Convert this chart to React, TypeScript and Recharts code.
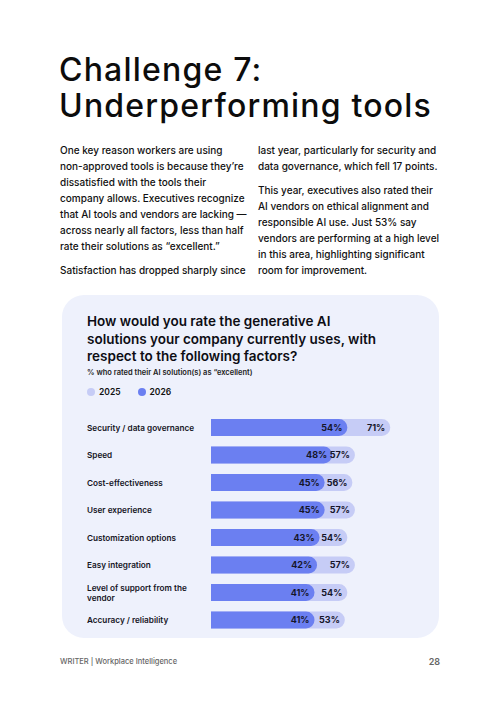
import React from "react";
import { BarChart, Bar, XAxis, YAxis, LabelList } from "recharts";

const categories = [
  "Security / data governance",
  "Speed",
  "Cost-effectiveness",
  "User experience",
  "Customization options",
  "Easy integration",
  "Level of support from the vendor",
  "Accuracy / reliability",
];
const values2025 = [71, 57, 56, 57, 54, 57, 54, 53];
const values2026 = [54, 48, 45, 45, 43, 42, 41, 41];
const seriesNames = ["2025", "2026"];

const COLOR_2025 = "#c6ccf6";
const COLOR_2026 = "#6b7ff1";
const FONT = "Inter, 'Noto Sans', sans-serif";

const data = categories.map((name, i) => ({
  name,
  v2025: values2025[i],
  v2026: values2026[i],
}));

const YAXIS_W = 149;
const LABEL_X = 25;

function wrap(text: string, max: number) {
  const words = text.split(" ");
  const lines: string[] = [];
  let cur = "";
  for (const w of words) {
    const next = cur ? cur + " " + w : w;
    if (next.length > max && cur) {
      lines.push(cur);
      cur = w;
    } else cur = next;
  }
  if (cur) lines.push(cur);
  return lines;
}

const CatTick = (props: any) => {
  const { y, payload } = props;
  const lines = wrap(String(payload.value), 26);
  const lh = 10;
  const start = y - ((lines.length - 1) * lh) / 2;
  return (
    <text
      x={LABEL_X}
      y={start}
      textAnchor="start"
      dominantBaseline="central"
      fontFamily={FONT}
      fontSize={8.2}
      fontWeight={600}
      fill="#15151f"
    >
      {lines.map((l, i) => (
        <tspan key={i} x={LABEL_X} y={start + i * lh}>
          {l}
        </tspan>
      ))}
    </text>
  );
};

const pct = (v: any) => `${v}%`;

export default function App() {
  return (
    <div
      style={{
        position: "absolute",
        left: 0,
        top: 0,
        width: 500,
        height: 707,
        background: "#ffffff",
        fontFamily: FONT,
        color: "#111",
        overflow: "hidden",
      }}
    >
      <div
        style={{
          position: "absolute",
          left: 59,
          top: 52,
          fontSize: 32,
          fontWeight: 500,
          lineHeight: "36px",
          letterSpacing: "1.2px",
          whiteSpace: "nowrap",
          color: "#0c0c0c",
        }}
      >
        <div>Challenge 7:</div>
        <div>Underperforming tools</div>
      </div>

      <div
        style={{
          position: "absolute",
          left: 60,
          top: 142,
          fontSize: 10,
          fontWeight: 500,
          lineHeight: "16px",
          whiteSpace: "nowrap",
        }}
      >
        One key reason workers are using
        <br />
        non-approved tools is because they’re
        <br />
        dissatisfied with the tools their
        <br />
        company allows. Executives recognize
        <br />
        that AI tools and vendors are lacking —
        <br />
        across nearly all factors, less than half
        <br />
        rate their solutions as “excellent.”
        <div style={{ marginTop: 7.5 }}>Satisfaction has dropped sharply since</div>
      </div>

      <div
        style={{
          position: "absolute",
          left: 258,
          top: 142,
          fontSize: 10,
          fontWeight: 500,
          lineHeight: "16px",
          whiteSpace: "nowrap",
        }}
      >
        last year, particularly for security and
        <br />
        data governance, which fell 17 points.
        <div style={{ marginTop: 7.5 }}>
          This year, executives also rated their
          <br />
          AI vendors on ethical alignment and
          <br />
          responsible AI use. Just 53% say
          <br />
          vendors are performing at a high level
          <br />
          in this area, highlighting significant
          <br />
          room for improvement.
        </div>
      </div>

      <div
        style={{
          position: "absolute",
          left: 62,
          top: 295,
          width: 377,
          height: 343,
          borderRadius: 22,
          background: "#eef1fc",
        }}
      >
        <div
          style={{
            position: "absolute",
            left: 25,
            top: 18,
            fontSize: 13.5,
            fontWeight: 600,
            lineHeight: "17.5px",
            whiteSpace: "nowrap",
            color: "#0d0d14",
          }}
        >
          How would you rate the generative AI
          <br />
          solutions your company currently uses, with
          <br />
          respect to the following factors?
        </div>
        <div
          style={{
            position: "absolute",
            left: 25,
            top: 73,
            fontSize: 7.5,
            fontWeight: 600,
            whiteSpace: "nowrap",
            color: "#222",
          }}
        >
          % who rated their AI solution(s) as “excellent)
        </div>
        <div
          style={{
            position: "absolute",
            left: 25,
            top: 92,
            display: "flex",
            alignItems: "center",
            fontSize: 8.5,
            fontWeight: 600,
            color: "#111",
          }}
        >
          {seriesNames.map((s, i) => (
            <div key={s} style={{ display: "flex", alignItems: "center", marginRight: 17 }}>
              <span
                style={{
                  width: 8,
                  height: 8,
                  borderRadius: 4,
                  background: i === 0 ? COLOR_2025 : COLOR_2026,
                  marginRight: 4,
                  display: "inline-block",
                }}
              />
              {s}
            </div>
          ))}
        </div>

        <div style={{ position: "absolute", left: 0, top: 110 }}>
          <BarChart
            width={377}
            height={235}
            data={data}
            layout="vertical"
            margin={{ top: 9, right: 26, bottom: 6, left: 0 }}
          >
            <XAxis type="number" domain={[0, 80]} hide />
            <YAxis
              yAxisId="a"
              type="category"
              dataKey="name"
              width={YAXIS_W}
              axisLine={false}
              tickLine={false}
              tick={<CatTick />}
              interval={0}
            />
            <YAxis yAxisId="b" type="category" dataKey="name" hide />
            <Bar
              yAxisId="a"
              dataKey="v2025"
              name={seriesNames[0]}
              fill={COLOR_2025}
              barSize={17}
              radius={[0, 9, 9, 0]}
              isAnimationActive={false}
            >
              <LabelList
                dataKey="v2025"
                position="insideRight"
                offset={5}
                formatter={pct}
                style={{ fontFamily: FONT, fontSize: 9, fontWeight: 700, fill: "#16162a" }}
              />
            </Bar>
            <Bar
              yAxisId="b"
              dataKey="v2026"
              name={seriesNames[1]}
              fill={COLOR_2026}
              barSize={17}
              radius={[0, 9, 9, 0]}
              isAnimationActive={false}
            >
              <LabelList
                dataKey="v2026"
                position="insideRight"
                offset={5}
                formatter={pct}
                style={{ fontFamily: FONT, fontSize: 9, fontWeight: 700, fill: "#16162a" }}
              />
            </Bar>
          </BarChart>
        </div>
      </div>

      <div
        style={{
          position: "absolute",
          left: 60,
          top: 657,
          fontSize: 7.5,
          fontWeight: 500,
          color: "#666",
          whiteSpace: "nowrap",
        }}
      >
        WRITER | Workplace Intelligence
      </div>
      <div
        style={{
          position: "absolute",
          right: 60,
          top: 656,
          fontSize: 9,
          fontWeight: 600,
          color: "#666",
        }}
      >
        28
      </div>
    </div>
  );
}
